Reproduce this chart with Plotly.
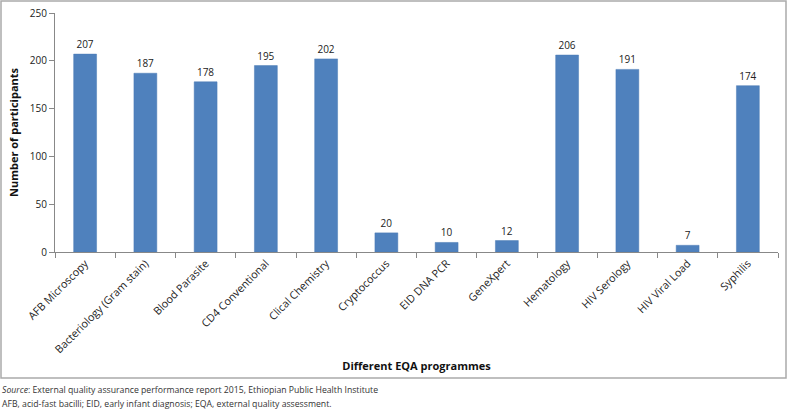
import plotly.graph_objects as go

categories = ["AFB Microscopy", "Bacteriology (Gram stain)", "Blood Parasite", "CD4 Conventional",
              "Clical Chemistry", "Cryptococcus", "EID DNA PCR", "GeneXpert", "Hematology",
              "HIV Serology", "HIV Viral Load", "Syphilis"]
participants = [207, 187, 178, 195, 202, 20, 10, 12, 206, 191, 7, 174]
y_ticks = [0, 50, 100, 150, 200, 250]

W, H = 787, 409
L, R, T, B = 55, 9, 13, 157
pw, ph = W - L - R, H - T - B

def px_x(p):
    return (p - L) / pw

def px_y(p):
    return (H - B - p) / ph

font_family = "Open Sans, Liberation Sans, sans-serif"

fig = go.Figure(go.Bar(
    x=categories, y=participants,
    marker=dict(color="#4f81bd", line=dict(color="#4a7ab5", width=0.5)),
    text=participants, textposition="outside",
    textfont=dict(size=10, color="#222", family=font_family),
    cliponaxis=False, width=0.38,
))

fig.update_layout(
    width=W, height=H,
    margin=dict(l=L, r=R, t=T, b=B),
    paper_bgcolor="white", plot_bgcolor="white",
    showlegend=False,
    font=dict(family=font_family, color="#222"),
    xaxis=dict(
        type="category", tickangle=-45, tickfont=dict(size=10.8, color="#222"),
        showline=True, linecolor="#888", linewidth=1,
        ticks="outside", tickson="boundaries", ticklen=5, tickcolor="#888",
        showgrid=False,
        title=dict(text="<b>Different EQA programmes</b>", font=dict(size=11, color="#111"), standoff=7),
        automargin=False,
    ),
    yaxis=dict(
        range=[0, 250], tickvals=y_ticks, tickfont=dict(size=10, color="#222"),
        showline=True, linecolor="#888", linewidth=1,
        ticks="outside", ticklen=5, tickcolor="#888",
        showgrid=False, zeroline=False,
        title=dict(text="<b>Number of participants</b>", font=dict(size=11, color="#111"), standoff=8),
        automargin=False,
    ),
    shapes=[dict(type="rect", xref="paper", yref="paper",
                 x0=px_x(1), x1=px_x(786), y0=px_y(378), y1=px_y(1),
                 line=dict(color="#aaa", width=1.5), fillcolor="rgba(0,0,0,0)")],
    annotations=[
        dict(xref="paper", yref="paper", x=px_x(0), y=px_y(390), xanchor="left", yanchor="middle",
             text="<i>Source</i>: External quality assurance performance report 2015, Ethiopian Public Health Institute",
             showarrow=False, font=dict(size=8.7, color="#333")),
        dict(xref="paper", yref="paper", x=px_x(0), y=px_y(404), xanchor="left", yanchor="middle",
             text="AFB, acid-fast bacilli; EID, early infant diagnosis; EQA, external quality assessment.",
             showarrow=False, font=dict(size=8.7, color="#333")),
    ],
)

fig.write_html("out.html", config={"displayModeBar": False},
               post_script="document.body.style.margin='0';document.body.style.overflow='hidden';")
